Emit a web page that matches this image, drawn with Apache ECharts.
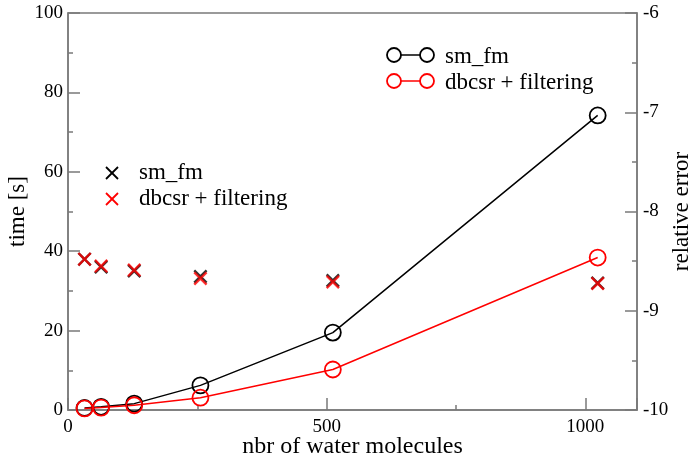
<!DOCTYPE html>
<html>
 <head>
  <meta charset="utf-8" />
  <title>time and relative error</title>
  <script src="https://cdn.jsdelivr.net/npm/echarts@6/dist/echarts.min.js"></script>
 </head>
 <body style="margin:0">
  <div id="main" style="width:695px;height:458px;"></div>
  <script type="text/javascript">
    // data
    var nMolecules = [32, 64, 128, 256, 512, 1024];
    var timeSmFm = [0.5, 0.8, 1.6, 6.2, 19.5, 74.2];
    var timeDbcsr = [0.4, 0.6, 1.2, 3.1, 10.2, 38.4];
    var errSmFm = [-8.48, -8.56, -8.60, -8.655, -8.695, -8.72];
    var errDbcsr = [-8.48, -8.55, -8.59, -8.675, -8.71, -8.725];
    var xTicks = [0, 500, 1000];

    var font = 'Liberation Serif';
    var grey = '#7a7a7a';
    // filled X shape used as the cross symbol
    var cross = 'path://M0,1.2L1.2,0L5,3.8L8.8,0L10,1.2L6.2,5L10,8.8L8.8,10L5,6.2L1.2,10L0,8.8L3.8,5Z';

    function pairs(xs, ys) {
        return xs.map(function (x, i) { return [x, ys[i]]; });
    }

    var myChart = echarts.init(document.getElementById('main'));

    function axisCommon() {
        return {
            nameMoveOverlap: false,
            axisLine: { show: true, onZero: false, lineStyle: { color: grey, width: 1.5 } },
            axisTick: { show: true, inside: true, length: 12, lineStyle: { color: grey, width: 1.5 } },
            minorTick: { show: true, splitNumber: 2, length: 5, lineStyle: { color: grey, width: 1.5 } },
            splitLine: { show: false },
            axisLabel: { color: '#000', fontFamily: font, fontSize: 19 },
            nameTextStyle: { color: '#000', fontFamily: font, fontSize: 23 }
        };
    }

    var xAxis = Object.assign(axisCommon(), {
        type: 'value', min: 0, max: 1100, interval: 500,
        name: 'nbr of water molecules', nameLocation: 'middle', nameGap: 25
    });
    xAxis.nameTextStyle.fontSize = 24;
    xAxis.axisLabel = Object.assign(xAxis.axisLabel, {
        margin: 8, showMaxLabel: false,
        formatter: function (v) { return xTicks.indexOf(v) >= 0 ? String(v) : ''; }
    });

    var yLeft = Object.assign(axisCommon(), {
        type: 'value', min: 0, max: 100, interval: 20, position: 'left',
        name: 'time [s]', nameLocation: 'middle', nameGap: 39, nameRotate: 90
    });
    yLeft.axisLabel.margin = 5;

    var yRight = Object.assign(axisCommon(), {
        type: 'value', min: -10, max: -6, interval: 1, position: 'right',
        name: 'relative error', nameLocation: 'middle', nameGap: 33, nameRotate: 90
    });
    yRight.axisLabel.margin = 6;

    function lineSeries(data, color) {
        return {
            type: 'line', yAxisIndex: 0, data: data,
            symbol: 'circle', symbolSize: 16,
            lineStyle: { color: color, width: 1.5 },
            itemStyle: { color: 'rgba(0,0,0,0)', borderColor: color, borderWidth: 1.8 }
        };
    }
    function crossSeries(data, color) {
        return {
            type: 'scatter', yAxisIndex: 1, data: data,
            symbol: cross, symbolSize: 14,
            itemStyle: { color: color }
        };
    }

    // hand-made legends (two-circle icon and plain crosses)
    function circleItem(y, color, label) {
        return [
            { type: 'line', shape: { x1: 394, y1: y, x2: 427, y2: y }, style: { stroke: color, lineWidth: 1.5 } },
            { type: 'circle', shape: { cx: 394, cy: y, r: 7 }, style: { fill: '#fff', stroke: color, lineWidth: 1.8 } },
            { type: 'circle', shape: { cx: 427, cy: y, r: 7 }, style: { fill: '#fff', stroke: color, lineWidth: 1.8 } },
            { type: 'text', x: 445, y: y + 2, style: { text: label, fill: '#000', font: '23px "' + font + '"', verticalAlign: 'middle' } }
        ];
    }
    function crossItem(y, color, label) {
        return [
            { type: 'line', shape: { x1: 106, y1: y - 6, x2: 118, y2: y + 6 }, style: { stroke: color, lineWidth: 1.8 } },
            { type: 'line', shape: { x1: 106, y1: y + 6, x2: 118, y2: y - 6 }, style: { stroke: color, lineWidth: 1.8 } },
            { type: 'text', x: 139, y: y, style: { text: label, fill: '#000', font: '23px "' + font + '"', verticalAlign: 'middle' } }
        ];
    }

    myChart.setOption({
        animation: false,
        backgroundColor: '#fff',
        grid: {
            left: 68, right: 58, top: 13, bottom: 48, outerBoundsMode: 'none',
            show: true, borderColor: grey, borderWidth: 1.5
        },
        xAxis: xAxis,
        yAxis: [yLeft, yRight],
        series: [
            lineSeries(pairs(nMolecules, timeSmFm), '#000'),
            lineSeries(pairs(nMolecules, timeDbcsr), '#ff0000'),
            crossSeries(pairs(nMolecules, errSmFm), '#000'),
            crossSeries(pairs(nMolecules, errDbcsr), '#ff0000')
        ],
        graphic: [].concat(
            circleItem(55, '#000', 'sm_fm'),
            circleItem(81, '#ff0000', 'dbcsr + filtering'),
            crossItem(173, '#000', 'sm_fm'),
            crossItem(199, '#ff0000', 'dbcsr + filtering')
        )
    });
  </script>
 </body>
</html>
